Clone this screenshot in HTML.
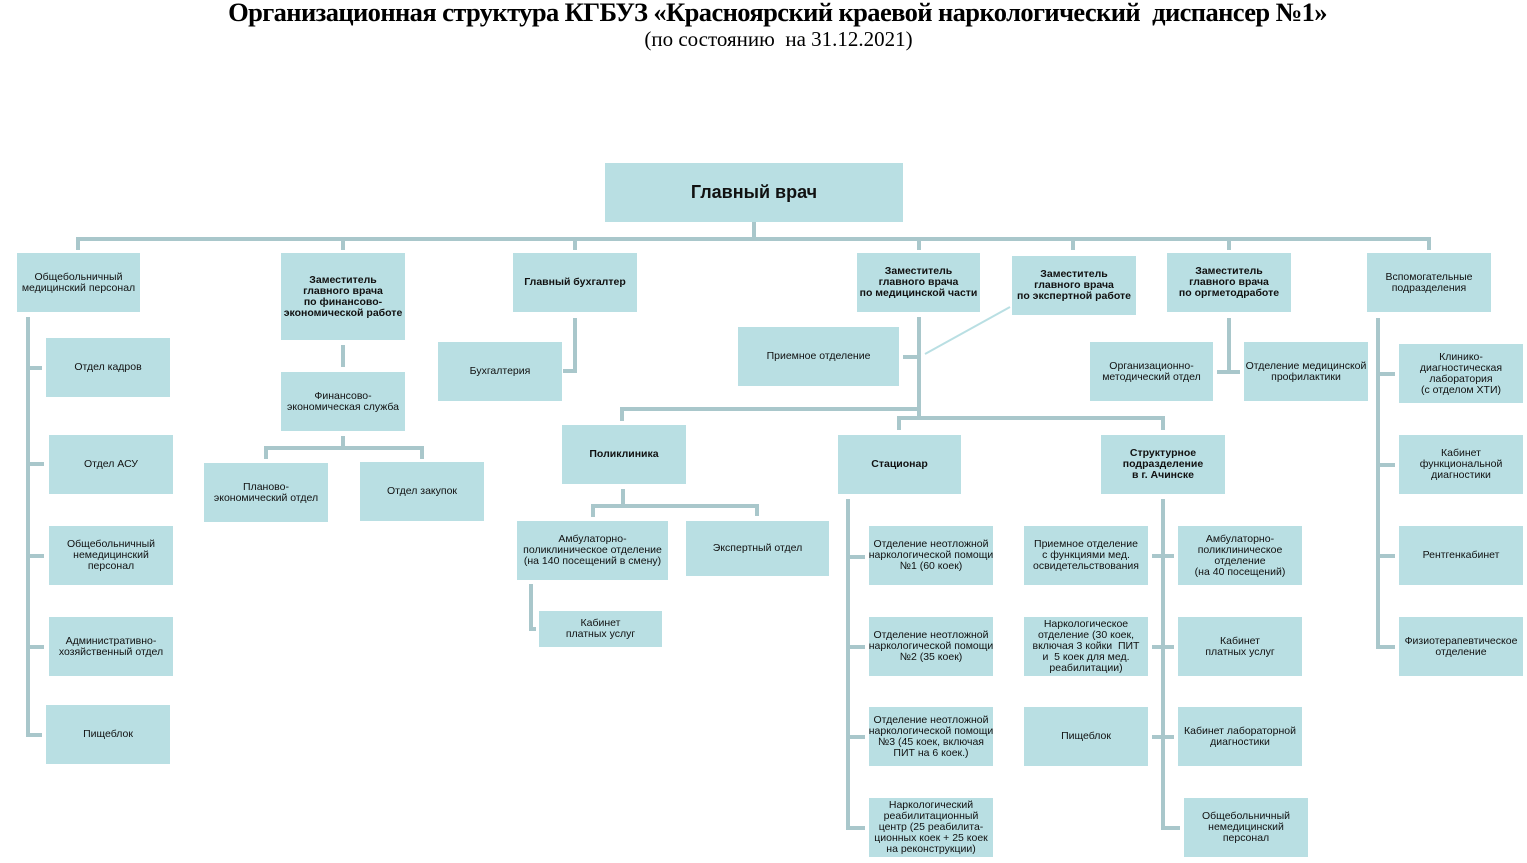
<!DOCTYPE html>
<html><head><meta charset="utf-8"><style>
body{margin:0;width:1527px;height:863px;background:#fff;position:relative;overflow:hidden;font-family:"Liberation Sans",sans-serif;}
.b{position:absolute;background:#b9dfe3;display:flex;align-items:center;justify-content:center;text-align:center;font-size:10.5px;line-height:11px;color:#111;white-space:nowrap;}
.bb{font-weight:bold;}
.l{position:absolute;background:#a9c7cb;}
.t{position:absolute;left:0;width:1527px;text-align:center;font-family:"Liberation Serif",serif;color:#000;white-space:nowrap;}
</style></head><body>
<div class="t" style="top:-3px;left:14px;font-size:26.5px;font-weight:bold;letter-spacing:-0.6px">Организационная структура КГБУЗ «Красноярский краевой наркологический&nbsp; диспансер №1»</div>
<div class="t" style="top:27px;left:15px;font-size:21px">(по состоянию&nbsp; на 31.12.2021)</div>

<div class="b bb" style="left:605px;top:163px;width:298px;height:59px;font-size:18px">Главный врач</div>
<div class="l" style="left:752px;top:222px;width:4px;height:18px"></div>
<div class="l" style="left:76px;top:237px;width:1355px;height:4px"></div>
<div class="l" style="left:76px;top:237px;width:4px;height:13px"></div>
<div class="l" style="left:341px;top:237px;width:4px;height:13px"></div>
<div class="l" style="left:573px;top:237px;width:4px;height:13px"></div>
<div class="l" style="left:917px;top:237px;width:4px;height:13px"></div>
<div class="l" style="left:1071px;top:237px;width:4px;height:13px"></div>
<div class="l" style="left:1227px;top:237px;width:4px;height:13px"></div>
<div class="l" style="left:1427px;top:237px;width:4px;height:13px"></div>

<div class="b" style="left:17px;top:253px;width:123px;height:59px">Общебольничный<br>медицинский персонал</div>
<div class="b bb" style="left:281px;top:253px;width:124px;height:87px">Заместитель<br>главного врача<br>по финансово-<br>экономической работе</div>
<div class="b bb" style="left:513px;top:253px;width:124px;height:59px">Главный бухгалтер</div>
<div class="b bb" style="left:857px;top:253px;width:123px;height:59px">Заместитель<br>главного врача<br>по медицинской части</div>
<div class="b bb" style="left:1012px;top:256px;width:124px;height:59px">Заместитель<br>главного врача<br>по экспертной работе</div>
<div class="b bb" style="left:1167px;top:253px;width:124px;height:59px">Заместитель<br>главного врача<br>по оргметодработе</div>
<div class="b" style="left:1367px;top:253px;width:124px;height:59px">Вспомогательные<br>подразделения</div>

<div class="l" style="left:26px;top:317px;width:4px;height:420px"></div>
<div class="l" style="left:26px;top:366px;width:16px;height:4px"></div>
<div class="l" style="left:26px;top:462px;width:18px;height:4px"></div>
<div class="l" style="left:26px;top:554px;width:18px;height:4px"></div>
<div class="l" style="left:26px;top:645px;width:18px;height:4px"></div>
<div class="l" style="left:26px;top:733px;width:16px;height:4px"></div>
<div class="b" style="left:46px;top:338px;width:124px;height:59px">Отдел кадров</div>
<div class="b" style="left:49px;top:435px;width:124px;height:59px">Отдел АСУ</div>
<div class="b" style="left:49px;top:526px;width:124px;height:59px">Общебольничный<br>немедицинский<br>персонал</div>
<div class="b" style="left:49px;top:617px;width:124px;height:59px">Административно-<br>хозяйственный отдел</div>
<div class="b" style="left:46px;top:705px;width:124px;height:59px">Пищеблок</div>

<div class="l" style="left:341px;top:345px;width:4px;height:22px"></div>
<div class="b" style="left:281px;top:372px;width:124px;height:59px">Финансово-<br>экономическая служба</div>
<div class="l" style="left:341px;top:436px;width:4px;height:12px"></div>
<div class="l" style="left:264px;top:446px;width:160px;height:4px"></div>
<div class="l" style="left:264px;top:446px;width:4px;height:13px"></div>
<div class="l" style="left:420px;top:446px;width:4px;height:13px"></div>
<div class="b" style="left:204px;top:463px;width:124px;height:59px">Планово-<br>экономический отдел</div>
<div class="b" style="left:360px;top:462px;width:124px;height:59px">Отдел закупок</div>

<div class="l" style="left:573px;top:318px;width:4px;height:55px"></div>
<div class="l" style="left:563px;top:369px;width:14px;height:4px"></div>
<div class="b" style="left:438px;top:342px;width:124px;height:59px">Бухгалтерия</div>

<div class="l" style="left:917px;top:317px;width:4px;height:102px"></div>
<div class="l" style="left:903px;top:355px;width:16px;height:4px"></div>
<div class="b" style="left:738px;top:327px;width:161px;height:59px">Приемное отделение</div>
<svg style="position:absolute;left:0;top:0" width="1527" height="863"><line x1="925" y1="354" x2="1010" y2="307" stroke="#b9dfe3" stroke-width="2"/></svg>
<div class="l" style="left:620px;top:407px;width:301px;height:4px"></div>
<div class="l" style="left:620px;top:407px;width:4px;height:14px"></div>
<div class="l" style="left:897px;top:416px;width:268px;height:4px"></div>
<div class="l" style="left:897px;top:416px;width:4px;height:14px"></div>
<div class="l" style="left:1161px;top:416px;width:4px;height:14px"></div>

<div class="b bb" style="left:562px;top:425px;width:124px;height:59px">Поликлиника</div>
<div class="l" style="left:621px;top:489px;width:4px;height:16px"></div>
<div class="l" style="left:591px;top:504px;width:168px;height:4px"></div>
<div class="l" style="left:591px;top:504px;width:4px;height:13px"></div>
<div class="l" style="left:755px;top:504px;width:4px;height:12px"></div>
<div class="b" style="left:517px;top:521px;width:151px;height:59px">Амбулаторно-<br>поликлиническое отделение<br>(на 140 посещений в смену)</div>
<div class="b" style="left:686px;top:521px;width:143px;height:55px">Экспертный отдел</div>
<div class="l" style="left:529px;top:584px;width:4px;height:47px"></div>
<div class="l" style="left:529px;top:627px;width:7px;height:4px"></div>
<div class="b" style="left:539px;top:611px;width:123px;height:36px">Кабинет<br>платных услуг</div>

<div class="b bb" style="left:838px;top:435px;width:123px;height:59px">Стационар</div>
<div class="l" style="left:846px;top:499px;width:4px;height:331px"></div>
<div class="l" style="left:846px;top:555px;width:19px;height:4px"></div>
<div class="l" style="left:846px;top:645px;width:19px;height:4px"></div>
<div class="l" style="left:846px;top:735px;width:19px;height:4px"></div>
<div class="l" style="left:846px;top:826px;width:19px;height:4px"></div>
<div class="b" style="left:869px;top:526px;width:124px;height:59px">Отделение неотложной<br>наркологической помощи<br>№1 (60 коек)</div>
<div class="b" style="left:869px;top:617px;width:124px;height:59px">Отделение неотложной<br>наркологической помощи<br>№2 (35 коек)</div>
<div class="b" style="left:869px;top:707px;width:124px;height:59px">Отделение неотложной<br>наркологической помощи<br>№3 (45 коек, включая<br>ПИТ на 6 коек.)</div>
<div class="b" style="left:869px;top:798px;width:124px;height:59px">Наркологический<br>реабилитационный<br>центр (25 реабилита-<br>ционных коек + 25 коек<br>на реконструкции)</div>

<div class="b bb" style="left:1101px;top:435px;width:124px;height:59px">Структурное<br>подразделение<br>в г. Ачинске</div>
<div class="l" style="left:1161px;top:499px;width:4px;height:331px"></div>
<div class="l" style="left:1152px;top:554px;width:22px;height:4px"></div>
<div class="l" style="left:1152px;top:645px;width:22px;height:4px"></div>
<div class="l" style="left:1152px;top:735px;width:22px;height:4px"></div>
<div class="l" style="left:1161px;top:826px;width:19px;height:4px"></div>
<div class="b" style="left:1024px;top:526px;width:124px;height:59px">Приемное отделение<br>с функциями мед.<br>освидетельствования</div>
<div class="b" style="left:1024px;top:617px;width:124px;height:59px">Наркологическое<br>отделение (30 коек,<br>включая 3 койки&nbsp; ПИТ<br>и&nbsp; 5 коек для мед.<br>реабилитации)</div>
<div class="b" style="left:1024px;top:707px;width:124px;height:59px">Пищеблок</div>
<div class="b" style="left:1178px;top:526px;width:124px;height:59px">Амбулаторно-<br>поликлиническое<br>отделение<br>(на 40 посещений)</div>
<div class="b" style="left:1178px;top:617px;width:124px;height:59px">Кабинет<br>платных услуг</div>
<div class="b" style="left:1178px;top:707px;width:124px;height:59px">Кабинет лабораторной<br>диагностики</div>
<div class="b" style="left:1184px;top:798px;width:124px;height:59px">Общебольничный<br>немедицинский<br>персонал</div>

<div class="l" style="left:1227px;top:318px;width:4px;height:54px"></div>
<div class="l" style="left:1217px;top:370px;width:23px;height:4px"></div>
<div class="b" style="left:1090px;top:342px;width:123px;height:59px">Организационно-<br>методический отдел</div>
<div class="b" style="left:1244px;top:342px;width:124px;height:59px">Отделение медицинской<br>профилактики</div>

<div class="l" style="left:1376px;top:318px;width:4px;height:331px"></div>
<div class="l" style="left:1376px;top:372px;width:19px;height:4px"></div>
<div class="l" style="left:1376px;top:463px;width:19px;height:4px"></div>
<div class="l" style="left:1376px;top:554px;width:19px;height:4px"></div>
<div class="l" style="left:1376px;top:645px;width:19px;height:4px"></div>
<div class="b" style="left:1399px;top:344px;width:124px;height:59px">Клинико-<br>диагностическая<br>лаборатория<br>(с отделом ХТИ)</div>
<div class="b" style="left:1399px;top:435px;width:124px;height:59px">Кабинет<br>функциональной<br>диагностики</div>
<div class="b" style="left:1399px;top:526px;width:124px;height:59px">Рентгенкабинет</div>
<div class="b" style="left:1399px;top:617px;width:124px;height:59px">Физиотерапевтическое<br>отделение</div>
</body></html>
